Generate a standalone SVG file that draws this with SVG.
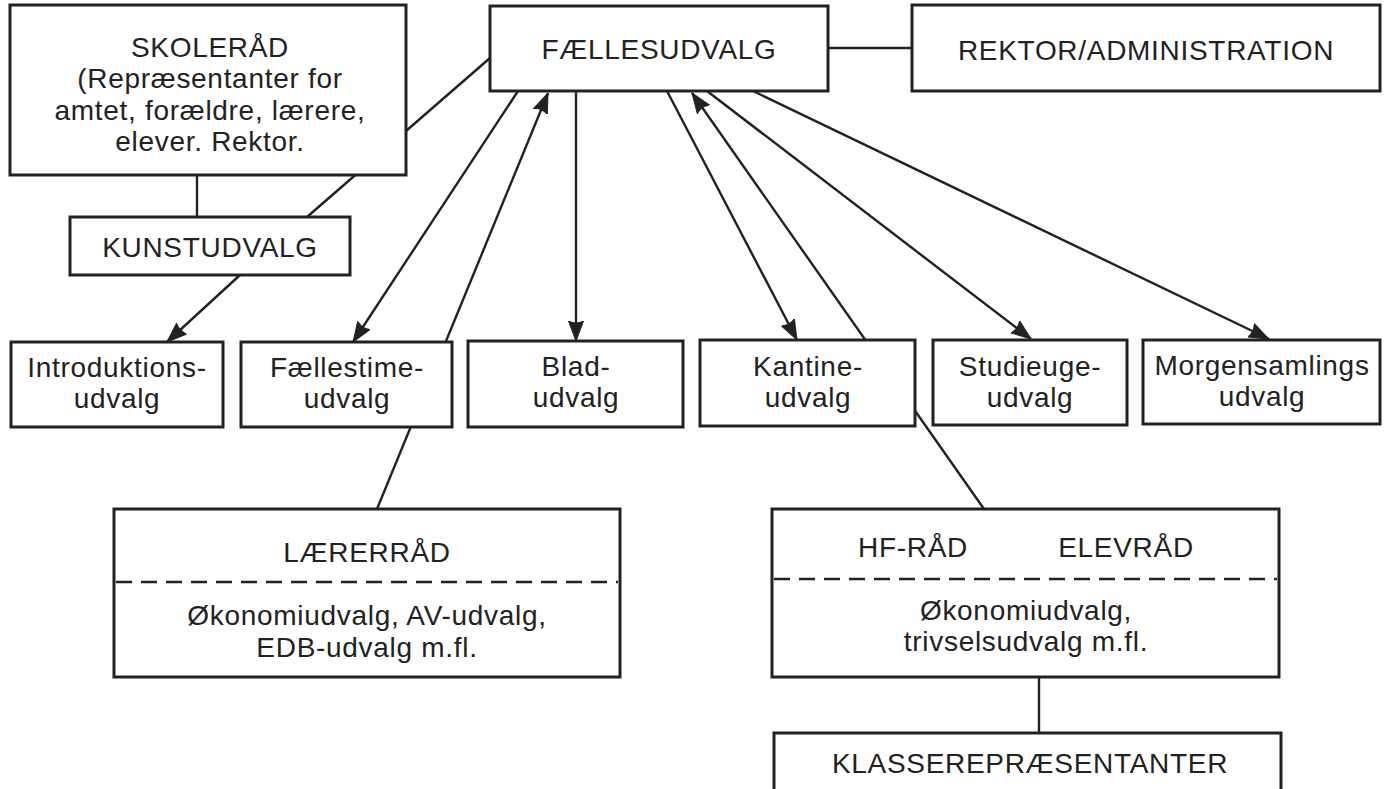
<svg xmlns="http://www.w3.org/2000/svg" width="1384" height="789" viewBox="0 0 1384 789">
<style>
.box{fill:#fff;stroke:#222;stroke-width:3}
.ln{stroke:#222;stroke-width:2.4;fill:none}
.dash{stroke:#222;stroke-width:2.5;stroke-dasharray:16 9;fill:none}
text{font-family:"Liberation Sans",Arial,sans-serif;font-size:28px;letter-spacing:0.7px;fill:#222;text-anchor:middle}
</style>
<defs>
<marker id="ah" markerUnits="userSpaceOnUse" markerWidth="22" markerHeight="18" refX="20" refY="9" orient="auto">
<path d="M0,1.5 L20,9 L0,16.5 Q4,9 0,1.5 z" fill="#222" stroke="#222" stroke-width="1" stroke-linejoin="round"/>
</marker>
</defs>
<rect x="0" y="0" width="1384" height="789" fill="#fff"/>
<g id="connectors">
<line class="ln" x1="307" y1="217" x2="490" y2="58"/>
<line class="ln" x1="197" y1="175" x2="197" y2="217"/>
<line class="ln" x1="828" y1="48" x2="912" y2="48"/>
<line class="ln" x1="240" y1="275" x2="167" y2="342" marker-end="url(#ah)"/>
<line class="ln" x1="518" y1="91" x2="353" y2="342" marker-end="url(#ah)"/>
<line class="ln" x1="377" y1="509" x2="548" y2="93" marker-end="url(#ah)"/>
<line class="ln" x1="576" y1="91" x2="576" y2="341" marker-end="url(#ah)"/>
<line class="ln" x1="667" y1="91" x2="797" y2="340" marker-end="url(#ah)"/>
<line class="ln" x1="984" y1="509" x2="692" y2="93" marker-end="url(#ah)"/>
<line class="ln" x1="707" y1="91" x2="1031" y2="339" marker-end="url(#ah)"/>
<line class="ln" x1="753" y1="91" x2="1269" y2="339" marker-end="url(#ah)"/>
<line class="ln" x1="1039" y1="677" x2="1039" y2="733"/>
</g>
<g id="skoleraad">
<rect class="box" x="10" y="5" width="396" height="170"/>
<text x="210" y="57">SKOLERÅD</text>
<text x="210" y="88">(Repræsentanter for</text>
<text x="210" y="120">amtet, forældre, lærere,</text>
<text x="210" y="151">elever. Rektor.</text>
</g>
<g id="faellesudvalg">
<rect class="box" x="490" y="6" width="338" height="85"/>
<text x="659" y="59">FÆLLESUDVALG</text>
</g>
<g id="rektor">
<rect class="box" x="912" y="5" width="468" height="86"/>
<text x="1146" y="60">REKTOR/ADMINISTRATION</text>
</g>
<g id="kunstudvalg">
<rect class="box" x="70" y="217" width="280" height="58"/>
<text x="210" y="257">KUNSTUDVALG</text>
</g>
<g id="introduktion">
<rect class="box" x="11" y="342" width="212" height="85"/>
<text x="117" y="377">Introduktions-</text>
<text x="117" y="408">udvalg</text>
</g>
<g id="faellestime">
<rect class="box" x="241" y="342" width="211" height="85"/>
<text x="347" y="377">Fællestime-</text>
<text x="347" y="408">udvalg</text>
</g>
<g id="blad">
<rect class="box" x="468" y="341" width="215" height="86"/>
<text x="576" y="376">Blad-</text>
<text x="576" y="407">udvalg</text>
</g>
<g id="kantine">
<rect class="box" x="700" y="340" width="215" height="86"/>
<text x="808" y="376">Kantine-</text>
<text x="808" y="407">udvalg</text>
</g>
<g id="studieuge">
<rect class="box" x="933" y="340" width="194" height="85"/>
<text x="1030" y="376">Studieuge-</text>
<text x="1030" y="407">udvalg</text>
</g>
<g id="morgensamling">
<rect class="box" x="1143" y="340" width="237" height="84"/>
<text x="1262" y="375">Morgensamlings</text>
<text x="1262" y="406">udvalg</text>
</g>
<g id="laererraad">
<rect class="box" x="114" y="509" width="506" height="168"/>
<text x="367" y="562">LÆRERRÅD</text>
<line class="dash" x1="116" y1="582" x2="618" y2="582"/>
<text x="367" y="625">Økonomiudvalg, AV-udvalg,</text>
<text x="367" y="657">EDB-udvalg m.fl.</text>
</g>
<g id="elevraad">
<rect class="box" x="772" y="509" width="507" height="168"/>
<text x="913" y="557">HF-RÅD</text>
<text x="1126" y="557">ELEVRÅD</text>
<line class="dash" x1="774" y1="579" x2="1277" y2="579"/>
<text x="1026" y="620">Økonomiudvalg,</text>
<text x="1026" y="651">trivselsudvalg m.fl.</text>
</g>
<g id="klasserep">
<rect class="box" x="774" y="733" width="507" height="70"/>
<text x="1030" y="773">KLASSEREPRÆSENTANTER</text>
</g>
</svg>
